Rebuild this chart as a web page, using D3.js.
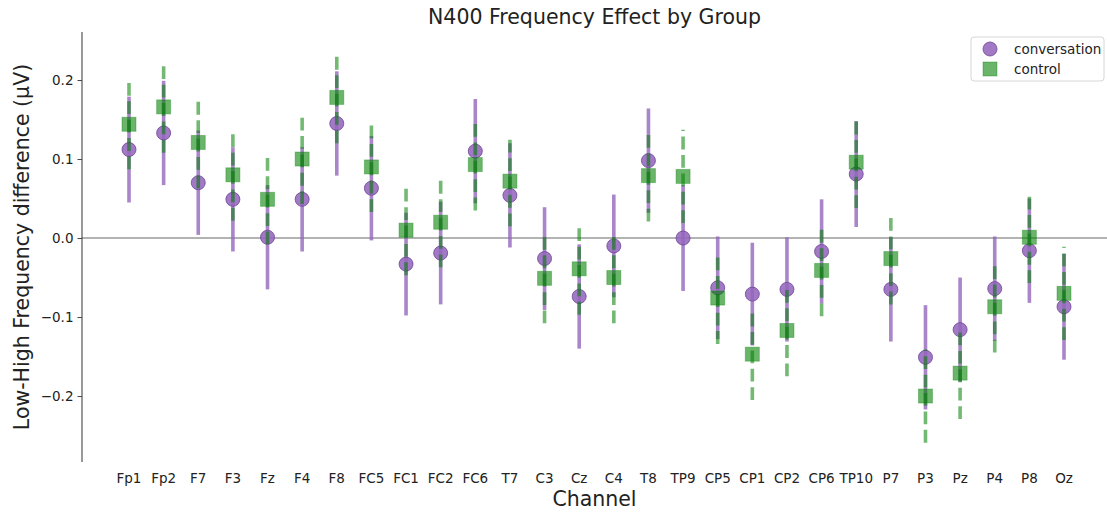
<!DOCTYPE html>
<html>
<head>
<meta charset="utf-8">
<script src="https://cdn.jsdelivr.net/npm/d3@7"></script>
<style>
    body { margin: 0; background: #fff; }
    text { font-family: "DejaVu Sans", sans-serif; fill: #222; }
</style>
</head>
<body>
<div id="chart"></div>
<script>
let channels = ['Fp1', 'Fp2', 'F7', 'F3', 'Fz', 'F4', 'F8', 'FC5', 'FC1', 'FC2', 'FC6', 'T7', 'C3', 'Cz',
    'C4', 'T8', 'TP9', 'CP5', 'CP1', 'CP2', 'CP6', 'TP10', 'P7', 'P3', 'Pz', 'P4', 'P8', 'Oz'];

let convMean = [0.112, 0.133, 0.070, 0.049, 0.001, 0.049, 0.145, 0.063, -0.033, -0.019, 0.110, 0.054, -0.026, -0.074,
    -0.010, 0.098, 0.000, -0.063, -0.071, -0.065, -0.017, 0.081, -0.065, -0.151, -0.116, -0.064, -0.016, -0.087];
let convErr = [0.067, 0.066, 0.066, 0.066, 0.066, 0.066, 0.066, 0.066, 0.065, 0.065, 0.066, 0.066, 0.065, 0.066,
    0.065, 0.066, 0.067, 0.065, 0.065, 0.066, 0.066, 0.067, 0.066, 0.066, 0.066, 0.066, 0.066, 0.067];

let ctrlMean = [0.144, 0.166, 0.121, 0.080, 0.049, 0.100, 0.178, 0.090, 0.010, 0.020, 0.093, 0.072, -0.051, -0.039,
    -0.050, 0.079, 0.078, -0.076, -0.147, -0.117, -0.041, 0.096, -0.026, -0.200, -0.171, -0.087, 0.001, -0.070];
let ctrlErr = [0.057, 0.058, 0.058, 0.058, 0.057, 0.057, 0.058, 0.057, 0.057, 0.057, 0.058, 0.057, 0.057, 0.058,
    0.058, 0.058, 0.059, 0.058, 0.058, 0.058, 0.058, 0.058, 0.058, 0.059, 0.058, 0.058, 0.058, 0.059];

let yTicks = [-0.2, -0.1, 0.0, 0.1, 0.2];

let width = 1107,
    height = 514,
    margin = {left: 82, top: 32, right: 0, bottom: 52};

let purple = '#9467bd',
    purpleEdge = '#6f4597',
    green = 'green';

let svg = d3.select('#chart').append('svg')
    .attr('width', width)
    .attr('height', height);

let x = d3.scalePoint()
    .domain(channels)
    .range([129, 1064]);

let y = d3.scaleLinear()
    .domain([-0.2835, 0.2608])
    .range([height - margin.bottom, margin.top]);

// zero reference line
svg.append('line')
    .attr('x1', margin.left)
    .attr('x2', width)
    .attr('y1', y(0))
    .attr('y2', y(0))
    .attr('stroke', '#9a9a9a')
    .attr('stroke-width', 1.5);

// y axis (left spine only)
let yAxis = svg.append('g')
    .attr('transform', `translate(${margin.left}, 0)`)
    .call(d3.axisLeft(y).tickValues(yTicks).tickFormat(d3.format('.1f')).tickSize(4.5).tickPadding(4));

yAxis.select('.domain')
    .attr('d', `M0,${margin.top}V${height - margin.bottom}`)
    .attr('stroke', '#444')
    .attr('stroke-width', 1.1);
yAxis.selectAll('.tick line').attr('stroke', '#444');
yAxis.selectAll('.tick text')
    .style('font-size', '13.5px')
    .attr('fill', '#222');

// x tick labels, no spine
svg.append('g')
    .selectAll('text')
    .data(channels)
    .join('text')
    .attr('x', d => x(d))
    .attr('y', 483)
    .attr('text-anchor', 'middle')
    .style('font-size', '13.5px')
    .text(d => d);

let conv = channels.map((c, i) => ({ch: c, mean: convMean[i], err: convErr[i]}));
let ctrl = channels.map((c, i) => ({ch: c, mean: ctrlMean[i], err: ctrlErr[i]}));

// conversation: solid error bars + circles
svg.append('g')
    .attr('opacity', 0.8)
    .selectAll('.errbar')
    .data(conv)
    .join('line')
    .attr('class', 'errbar')
    .attr('x1', d => x(d.ch))
    .attr('x2', d => x(d.ch))
    .attr('y1', d => y(d.mean - d.err))
    .attr('y2', d => y(d.mean + d.err))
    .attr('stroke', purple)
    .attr('stroke-width', 3.6);

svg.append('g')
    .selectAll('circle')
    .data(conv)
    .join('circle')
    .attr('cx', d => x(d.ch))
    .attr('cy', d => y(d.mean))
    .attr('r', 7)
    .attr('fill', purple)
    .attr('fill-opacity', 0.88)
    .attr('stroke', purpleEdge)
    .attr('stroke-opacity', 0.8)
    .attr('stroke-width', 1);

// control: dashed error bars + squares
svg.append('g')
    .selectAll('.errbar')
    .data(ctrl)
    .join('line')
    .attr('class', 'errbar')
    .attr('x1', d => x(d.ch))
    .attr('x2', d => x(d.ch))
    .attr('y1', d => y(d.mean - d.err))
    .attr('y2', d => y(d.mean + d.err))
    .attr('stroke', green)
    .attr('stroke-opacity', 0.55)
    .attr('stroke-width', 3.6)
    .attr('stroke-dasharray', '12.8,5.6');

svg.append('g')
    .selectAll('rect')
    .data(ctrl)
    .join('rect')
    .attr('x', d => x(d.ch) - 7)
    .attr('y', d => y(d.mean) - 7)
    .attr('width', 14)
    .attr('height', 14)
    .attr('fill', green)
    .attr('fill-opacity', 0.58)
    .attr('stroke', green)
    .attr('stroke-opacity', 0.35)
    .attr('stroke-width', 1);

// title and axis labels
svg.append('text')
    .attr('x', (margin.left + width) / 2)
    .attr('y', 24)
    .attr('text-anchor', 'middle')
    .style('font-size', '20.5px')
    .text('N400 Frequency Effect by Group');

svg.append('text')
    .attr('x', (margin.left + width) / 2)
    .attr('y', 506)
    .attr('text-anchor', 'middle')
    .style('font-size', '20.5px')
    .text('Channel');

svg.append('text')
    .attr('transform', `translate(29, ${(margin.top + height - margin.bottom) / 2}) rotate(-90)`)
    .attr('text-anchor', 'middle')
    .style('font-size', '20.5px')
    .text('Low-High Frequency difference (μV)');

// legend
let legend = svg.append('g')
    .attr('transform', 'translate(971, 37)');

legend.append('rect')
    .attr('width', 133)
    .attr('height', 44)
    .attr('rx', 3)
    .attr('fill', '#fff')
    .attr('fill-opacity', 0.8)
    .attr('stroke', '#d6d6d6')
    .attr('stroke-width', 1);

legend.append('circle')
    .attr('cx', 19)
    .attr('cy', 12)
    .attr('r', 7)
    .attr('fill', purple)
    .attr('fill-opacity', 0.88)
    .attr('stroke', purpleEdge)
    .attr('stroke-opacity', 0.8);

legend.append('rect')
    .attr('x', 12)
    .attr('y', 25)
    .attr('width', 14)
    .attr('height', 14)
    .attr('fill', green)
    .attr('fill-opacity', 0.58)
    .attr('stroke', green)
    .attr('stroke-opacity', 0.35);

legend.append('text')
    .attr('x', 43)
    .attr('y', 17)
    .style('font-size', '13.5px')
    .text('conversation');

legend.append('text')
    .attr('x', 43)
    .attr('y', 37)
    .style('font-size', '13.5px')
    .text('control');
</script>
</body>
</html>
